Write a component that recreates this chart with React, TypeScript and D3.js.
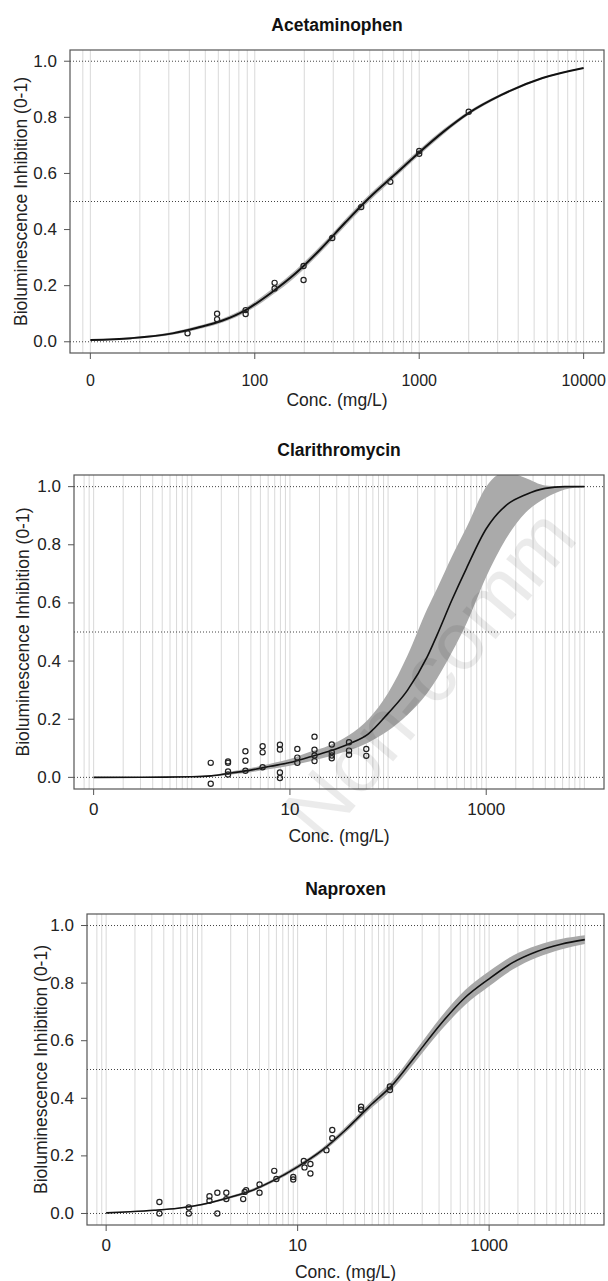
import React from "react";
import * as d3 from "d3";

// ---- Acetaminophen: observed points ----
const acetDose = [39, 59, 59, 88, 88, 132, 132, 198, 198, 296, 444, 667, 1000, 1000, 2000];
const acetResp = [0.03, 0.1, 0.08, 0.113, 0.099, 0.21, 0.19, 0.27, 0.22, 0.37, 0.48, 0.57, 0.68, 0.67, 0.82];
// fitted curve + band
const acetFitConc = [10, 17.8, 31.6, 44.7, 63.1, 89.1, 126, 178, 251, 355, 501, 708, 1000, 1413, 1995, 3162, 5623, 10000];
const acetFit = [0.006, 0.013, 0.03, 0.05, 0.075, 0.115, 0.175, 0.245, 0.33, 0.425, 0.515, 0.595, 0.675, 0.75, 0.815, 0.88, 0.94, 0.976];
const acetLower = [0.004, 0.01, 0.025, 0.044, 0.068, 0.106, 0.164, 0.233, 0.318, 0.413, 0.503, 0.584, 0.665, 0.741, 0.808, 0.875, 0.937, 0.974];
const acetUpper = [0.008, 0.016, 0.035, 0.056, 0.082, 0.124, 0.186, 0.257, 0.342, 0.437, 0.527, 0.606, 0.685, 0.759, 0.822, 0.885, 0.943, 0.978];
const acetTicks = [10, 100, 1000, 10000];
const acetTickLabels = ["0", "100", "1000", "10000"];

// ---- Clarithromycin ----
const clarDose = [1.56, 1.56, 2.34, 2.34, 2.34, 2.34, 3.52, 3.52, 3.52, 5.27, 5.27, 5.27, 7.91, 7.91, 7.91, 7.91,
  11.9, 11.9, 11.9, 17.8, 17.8, 17.8, 17.8, 26.7, 26.7, 26.7, 26.7, 40, 40, 40, 60, 60];
const clarResp = [0.05, -0.022, 0.055, 0.05, 0.02, 0.01, 0.09, 0.057, 0.023, 0.107, 0.086, 0.035, 0.112, 0.096, 0.017, -0.002,
  0.098, 0.068, 0.05, 0.14, 0.095, 0.075, 0.056, 0.113, 0.086, 0.075, 0.066, 0.121, 0.092, 0.078, 0.098, 0.074];
const clarFitConc = [0.1, 0.316, 1, 1.58, 2.51, 3.98, 6.31, 10, 15.8, 25.1, 39.8, 63.1, 100, 158, 251, 316, 447, 631, 1000, 1585, 2512, 3981, 6310, 10000];
const clarFit = [0, 0.0005, 0.002, 0.005, 0.015, 0.025, 0.038, 0.051, 0.07, 0.09, 0.115, 0.15, 0.22, 0.3, 0.415, 0.49, 0.61, 0.72, 0.855, 0.935, 0.972, 0.994, 1, 1];
const clarLower = [0, 0, 0.001, 0.003, 0.01, 0.018, 0.029, 0.04, 0.055, 0.072, 0.092, 0.12, 0.16, 0.215, 0.29, 0.34, 0.43, 0.53, 0.69, 0.82, 0.91, 0.96, 0.99, 1];
const clarUpper = [0, 0.001, 0.003, 0.007, 0.02, 0.032, 0.047, 0.063, 0.087, 0.11, 0.145, 0.2, 0.29, 0.42, 0.58, 0.65, 0.76, 0.86, 1.0, 1.05, 1.03, 1.004, 1, 1];
const clarTicks = [0.1, 10, 1000];
const clarTickLabels = ["0", "10", "1000"];

// ---- Naproxen ----
const napDose = [0.36, 0.36, 0.73, 0.73, 1.2, 1.2, 1.45, 1.45, 1.8, 1.8, 2.7, 2.8, 2.9, 4.0, 4.0, 5.7, 6.0, 9.0, 9.0,
  11.6, 11.8, 13.6, 13.6, 20, 23, 23, 46, 46, 92, 92];
const napResp = [0.04, 0, 0.021, 0, 0.06, 0.044, 0.072, 0, 0.072, 0.05, 0.05, 0.075, 0.081, 0.101, 0.072, 0.148, 0.12, 0.127, 0.118,
  0.182, 0.16, 0.172, 0.139, 0.22, 0.29, 0.261, 0.371, 0.36, 0.441, 0.429];
const napFitConc = [0.1, 0.178, 0.316, 0.562, 1, 1.78, 3.16, 5.62, 10, 17.8, 31.6, 56.2, 100, 178, 316, 562, 1000, 1778, 3162, 5623, 10000];
const napFit = [0.002, 0.006, 0.011, 0.018, 0.031, 0.052, 0.077, 0.115, 0.162, 0.218, 0.29, 0.372, 0.45, 0.555, 0.66, 0.75, 0.815, 0.872, 0.91, 0.935, 0.951];
const napLower = [0.001, 0.005, 0.009, 0.016, 0.028, 0.048, 0.072, 0.109, 0.155, 0.21, 0.28, 0.36, 0.435, 0.536, 0.637, 0.724, 0.789, 0.848, 0.889, 0.917, 0.936];
const napUpper = [0.003, 0.007, 0.013, 0.02, 0.034, 0.056, 0.082, 0.121, 0.169, 0.226, 0.3, 0.384, 0.465, 0.574, 0.683, 0.776, 0.841, 0.896, 0.931, 0.953, 0.966];
const napTicks = [0.1, 10, 1000];
const napTickLabels = ["0", "10", "1000"];

const yTicks = [0, 0.2, 0.4, 0.6, 0.8, 1.0];
const refLines = [0, 0.5, 1];

const FONT = '"Liberation Sans", Arial, Helvetica, sans-serif';
const INK = "#222";

type PanelProps = {
  id: string;
  title: string;
  dose: number[];
  resp: number[];
  fitConc: number[];
  fit: number[];
  lower: number[];
  upper: number[];
  ticks: number[];
  tickLabels: string[];
  xDomain: [number, number];
  gridFrom: number;
  left: number;
  right: number;
  top: number;
  bottom: number;
  ylabX: number;
  tickDy: number;
  tickSize: number;
  band: string;
  lineW: number;
};

function DosePanel(p: PanelProps) {
  const x = d3.scaleLog().domain(p.xDomain).range([p.left, p.right]);
  const y = d3.scaleLinear().domain([-0.04, 1.04]).range([p.bottom, p.top]);
  const fmt = d3.format(".1f");
  // light vertical grid at 1..9 x 10^k
  const grid = x.ticks().filter(v => v >= p.gridFrom * 0.999 && v <= p.xDomain[1]);

  const idx = d3.range(p.fitConc.length);
  const area = d3.area<number>()
    .x(i => x(p.fitConc[i]))
    .y0(i => y(p.lower[i]))
    .y1(i => y(p.upper[i]))
    .curve(d3.curveMonotoneX);
  const line = d3.line<number>()
    .x(i => x(p.fitConc[i]))
    .y(i => y(p.fit[i]))
    .curve(d3.curveMonotoneX);

  const cx = (p.left + p.right) / 2;
  const cy = (p.top + p.bottom) / 2;

  return (
    <g>
      <defs>
        <clipPath id={p.id}>
          <rect x={p.left} y={p.top} width={p.right - p.left} height={p.bottom - p.top} />
        </clipPath>
      </defs>
      {grid.map((v, i) => (
        <line key={i} x1={x(v)} x2={x(v)} y1={p.top} y2={p.bottom} stroke="#d9d9d9" strokeWidth={1} />
      ))}
      {refLines.map(v => (
        <line key={v} x1={p.left} x2={p.right} y1={y(v)} y2={y(v)} stroke="#444" strokeWidth={1} strokeDasharray="1 2" />
      ))}
      <g clipPath={`url(#${p.id})`}>
        <path d={area(idx) || ""} fill={p.band} stroke="none" />
        <path d={line(idx) || ""} fill="none" stroke="#111" strokeWidth={p.lineW} />
      </g>
      {p.dose.map((d, i) => (
        <circle key={i} cx={x(d)} cy={y(p.resp[i])} r={2.6} fill="none" stroke={INK} strokeWidth={1.2} />
      ))}
      <rect x={p.left} y={p.top} width={p.right - p.left} height={p.bottom - p.top} fill="none" stroke="#555" strokeWidth={1.2} />

      {yTicks.map(v => (
        <g key={v}>
          <line x1={p.left - 6} x2={p.left} y1={y(v)} y2={y(v)} stroke="#555" />
          <text x={p.left - 13} y={y(v)} textAnchor="end" dominantBaseline="central" fontSize={17} fill={INK}>{fmt(v)}</text>
        </g>
      ))}
      {p.ticks.map((v, i) => (
        <g key={v}>
          <line x1={x(v)} x2={x(v)} y1={p.bottom} y2={p.bottom + 6} stroke="#555" />
          <text x={x(v)} y={p.bottom + p.tickDy} textAnchor="middle" dominantBaseline="central" fontSize={p.tickSize} fill={INK}>{p.tickLabels[i]}</text>
        </g>
      ))}

      <text x={cx} y={p.top - 25} textAnchor="middle" dominantBaseline="central" fontSize={17.5} fontWeight="bold" fill="#111">{p.title}</text>
      <text x={cx} y={p.bottom + 47} textAnchor="middle" dominantBaseline="central" fontSize={17.5} fill={INK}>Conc. (mg/L)</text>
      <text transform={`translate(${p.ylabX},${cy}) rotate(-90)`} textAnchor="middle" dominantBaseline="central" fontSize={17.5} fill={INK}>
        Bioluminescence Inhibition (0-1)
      </text>
    </g>
  );
}

export default function App() {
  return (
    <svg width={608} height={1281} viewBox="0 0 608 1281"
      style={{ position: "absolute", left: 0, top: 0, background: "#fff", fontFamily: FONT }}>
      <rect x={0} y={0} width={608} height={1281} fill="#fff" />
      <DosePanel id="c1" title="Acetaminophen" dose={acetDose} resp={acetResp}
        fitConc={acetFitConc} fit={acetFit} lower={acetLower} upper={acetUpper}
        ticks={acetTicks} tickLabels={acetTickLabels} xDomain={[7.52, 13300]} gridFrom={9}
        left={70} right={604} top={50} bottom={353} ylabX={21} tickDy={27} tickSize={16} band="#b5b5b5" lineW={2} />
      <DosePanel id="c2" title="Clarithromycin" dose={clarDose} resp={clarResp}
        fitConc={clarFitConc} fit={clarFit} lower={clarLower} upper={clarUpper}
        ticks={clarTicks} tickLabels={clarTickLabels} xDomain={[0.0631, 15849]} gridFrom={0.08}
        left={74} right={604} top={475} bottom={789} ylabX={23} tickDy={20} tickSize={17} band="#aaaaaa" lineW={1.6} />
      <DosePanel id="c3" title="Naproxen" dose={napDose} resp={napResp}
        fitConc={napFitConc} fit={napFit} lower={napLower} upper={napUpper}
        ticks={napTicks} tickLabels={napTickLabels} xDomain={[0.0631, 15849]} gridFrom={0.08}
        left={87} right={604} top={914} bottom={1225} ylabX={41} tickDy={20} tickSize={17} band="#a8a8a8" lineW={1.6} />
      {/* faint watermark across the middle panel */}
      <text transform="translate(322,846) rotate(-50)" fontSize={82} fill="#000" fillOpacity={0.08}>Non-comm</text>
    </svg>
  );
}
